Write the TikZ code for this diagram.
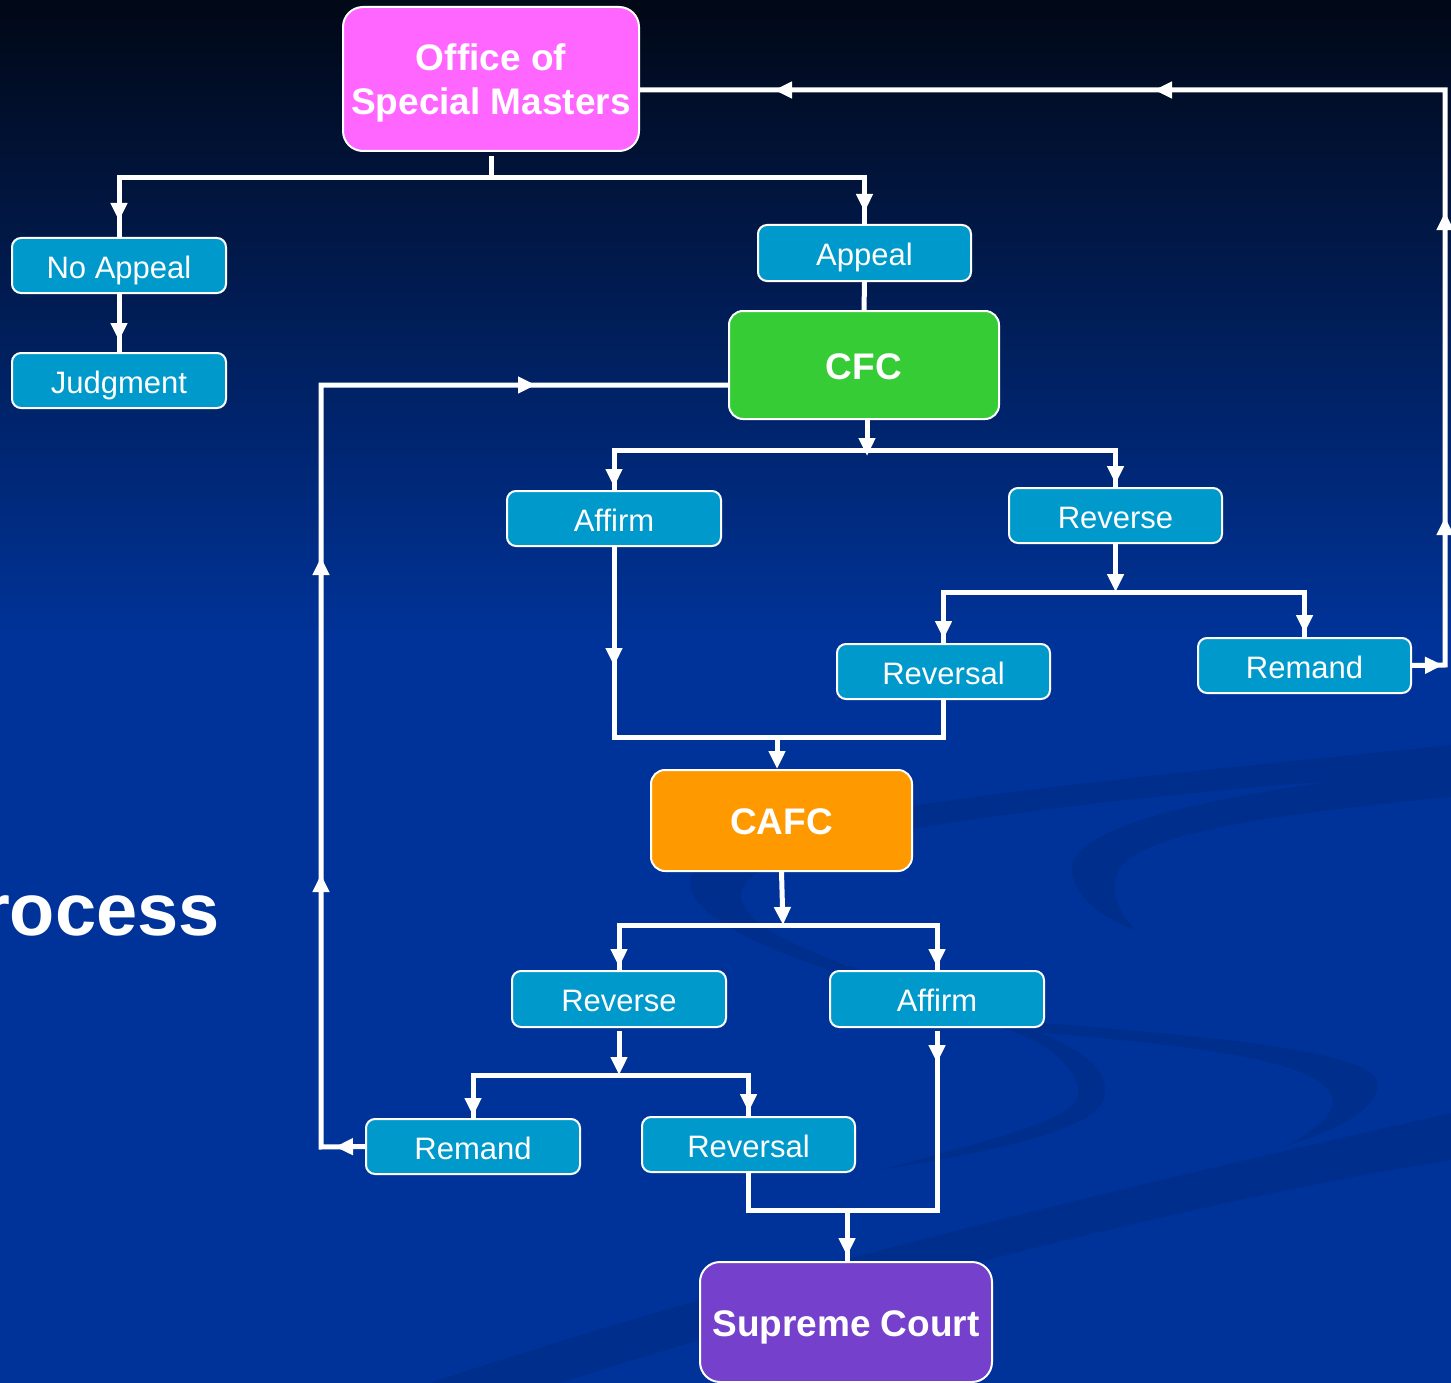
\documentclass[tikz,border=0pt]{standalone}
\usepackage{fontspec}
\setmainfont{Liberation Sans}
\usetikzlibrary{arrows.meta,decorations.markings}
\definecolor{bgtop}{HTML}{010816}
\definecolor{bgbot}{HTML}{003399}
\definecolor{swirl}{HTML}{002E8C}
\definecolor{cyanbox}{HTML}{0099CC}
\definecolor{osmc}{HTML}{FF66FF}
\definecolor{cfcc}{HTML}{36CC36}
\definecolor{cafcc}{HTML}{FF9900}
\definecolor{scc}{HTML}{7541CC}
\tikzset{
  Tri/.tip={Triangle[width=16pt,length=18pt]},
  conn/.style={draw=white, line width=5pt},
  tipat/.style={postaction={decorate, decoration={markings, mark=at position #1 with {\arrow{Tri}}}}},
  smallbox/.style={draw=white, line width=2pt, fill=cyanbox, rounded corners=9pt,
    minimum width=214pt, minimum height=55pt, inner sep=0pt, text=white,
    text height=25pt, text depth=0pt,
    font=\fontsize{31}{36}\selectfont},
  bigbox/.style={draw=white, line width=2pt, rounded corners=20pt, inner sep=0pt,
    text=white, align=center, font=\bfseries\fontsize{37}{44}\selectfont},
  oneline/.style={text height=28pt, text depth=0pt}
}
\begin{document}
\begin{tikzpicture}[x=1pt,y=-1pt]
\useasboundingbox (0,0) rectangle (1451,1383);
% background
\fill[bgbot] (0,0) rectangle (1451,1383);
\shade[top color=bgtop, bottom color=bgbot] (0,0) rectangle (1451,640);
% swirl decoration
\fill[swirl] (1451,745) .. controls (1000,790) and (700,820) .. (690,880)
  .. controls (685,930) and (850,985) .. (1000,1012)
  .. controls (870,975) and (730,935) .. (742,890)
  .. controls (755,840) and (1050,800) .. (1451,772) -- cycle;
\fill[swirl] (1451,765) .. controls (1250,790) and (1060,820) .. (1072,875)
  .. controls (1080,905) and (1110,920) .. (1135,930)
  .. controls (1118,910) and (1108,890) .. (1120,868)
  .. controls (1145,830) and (1300,812) .. (1451,797) -- cycle;
\fill[swirl] (1005,1020) .. controls (1200,1035) and (1380,1050) .. (1378,1085)
  .. controls (1376,1115) and (1320,1135) .. (1286,1146)
  .. controls (1330,1122) and (1340,1105) .. (1328,1090)
  .. controls (1305,1060) and (1200,1045) .. (1005,1030) -- cycle;
\fill[swirl] (1010,1022) .. controls (1080,1045) and (1112,1070) .. (1104,1098)
  .. controls (1095,1130) and (1000,1150) .. (880,1170)
  .. controls (990,1140) and (1075,1120) .. (1078,1095)
  .. controls (1080,1070) and (1050,1045) .. (1010,1030) -- cycle;
\fill[swirl] (1451,1113) .. controls (1200,1170) and (800,1260) .. (430,1383)
  -- (560,1383) .. controls (850,1290) and (1200,1200) .. (1451,1160) -- cycle;
% title fragment
\node[anchor=base east, inner sep=0pt, text=white, font=\bfseries\fontsize{74}{80}\selectfont] (proc) at (220,935) {rocess};
% nodes
\node[bigbox, fill=osmc, minimum width=296pt, minimum height=144pt] (osm) at (491,79)
  {\raisebox{-5pt}[\height][\depth]{\begin{tabular}{@{}c@{}}Office of\\Special Masters\end{tabular}}};
\node[smallbox] (noapp) at (119,265.5) {No Appeal};
\node[smallbox] (judg) at (119,380.5) {Judgment};
\node[smallbox, minimum width=213pt, minimum height=56pt] (appeal) at (864.5,253) {Appeal};
\node[bigbox, oneline, fill=cfcc, minimum width=270pt, minimum height=108pt, rounded corners=14pt] (cfc) at (864,365) {CFC};
\node[smallbox] (aff1) at (614,518.5) {Affirm};
\node[smallbox, minimum width=213pt] (rev1) at (1115.5,515.5) {Reverse};
\node[smallbox, minimum width=213pt] (rvs1) at (943.5,671.5) {Reversal};
\node[smallbox, minimum width=213pt] (rem1) at (1304.5,665.5) {Remand};
\node[bigbox, oneline, fill=cafcc, minimum width=261pt, minimum height=101pt, rounded corners=14pt] (cafc) at (781.5,820.5) {CAFC};
\node[smallbox, minimum height=56pt] (rev2) at (619,999) {Reverse};
\node[smallbox, minimum height=56pt] (aff2) at (937,999) {Affirm};
\node[smallbox] (rem2) at (473,1146.5) {Remand};
\node[smallbox, minimum width=213pt] (rvs2) at (748.5,1144.5) {Reversal};
\node[bigbox, oneline, fill=scc, minimum width=292pt, minimum height=120pt] (sc) at (846,1322) {Supreme Court};
% junction coordinates
\coordinate (j0) at (491,178);
\coordinate (j1) at (867,450);
\coordinate (j2) at (777,737);
\coordinate (j3) at (1117,592);
\coordinate (j4) at (783,925);
\coordinate (j5) at (619,1075);
\coordinate (j6) at (847,1210);
\coordinate (c1) at (1445,665);
\coordinate (c2) at (1445,90);
\coordinate (c3) at (321,1147);
\coordinate (c4) at (321,385);
% connectors
\draw[conn] ([yshift=-4pt]osm.south) -- (j0);
\draw[conn, tipat=-16pt] (j0) -| (noapp.north);
\draw[conn, tipat=-12pt] (j0) -| (appeal.north);
\draw[conn, tipat=-11pt] (noapp.south) -- (judg.north);
\draw[conn] (appeal.south) -- (cfc.north);
\draw[conn, -{Tri}] ([xshift=3pt]cfc.south) -- ([yshift=-6pt]j1);
\draw[conn, tipat=-3pt] (j1) -| (aff1.north);
\draw[conn, tipat=-3pt] (j1) -| (rev1.north);
\draw[conn, tipat=119pt] (aff1.south) |- (j2);
\draw[conn] (rvs1.south) |- (j2);
\draw[conn, -{Tri}] (j2) -- (j2 |- cafc.north);
\draw[conn, -{Tri}] (rev1.south) -- (rev1.south |- j3);
\draw[conn, tipat=-4pt] (j3) -| (rvs1.north);
\draw[conn, tipat=-4pt] (j3) -| (rem1.north);
\draw[conn, tipat=31pt, tipat=181pt, tipat=486pt, tipat=899pt, tipat=1279pt]
  (rem1.east) -- (c1) -- (c2) -- (c2 -| osm.east);
\draw[conn, -{Tri}] (cafc.south) -- (j4);
\draw[conn, tipat=-3pt] (j4) -| (rev2.north);
\draw[conn, tipat=-3pt] (j4) -| (aff2.north);
\draw[conn, -{Tri}] ([yshift=-3pt]rev2.south) -- (j5);
\draw[conn, tipat=-2pt] (j5) -| (rem2.north);
\draw[conn, tipat=-4pt] (j5) -| (rvs2.north);
\draw[conn, tipat=32pt] ([yshift=-3pt]aff2.south) |- (j6);
\draw[conn] (rvs2.south) |- (j6);
\draw[conn, tipat=-5pt] (j6) -- (j6 |- sc.north);
\draw[conn, tipat=30pt, tipat=317pt, tipat=634pt, tipat=1021pt]
  (rem2.west) -- (c3) -- (c4) -- (c4 -| cfc.west);
\end{tikzpicture}
\end{document}
